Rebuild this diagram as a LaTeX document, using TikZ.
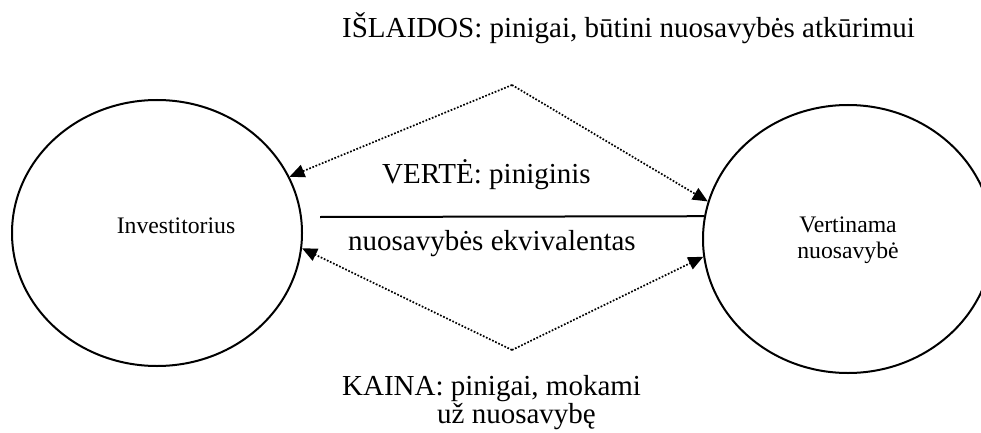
\documentclass[tikz,border=0pt]{standalone}
\usepackage{fontspec}
\setmainfont{Liberation Serif}
\usetikzlibrary{shapes.geometric,arrows.meta}
\tikzset{
  circ/.style={draw, ellipse, line width=2pt, minimum width=290pt, minimum height=266pt, inner sep=0pt},
  lbl/.style={inner sep=0pt, anchor=base west, font=\fontsize{29}{34}\selectfont},
  inlbl/.style={inner sep=0pt, anchor=base, font=\fontsize{23.7}{26}\selectfont},
  dotline/.style={line width=1.7pt, dash pattern=on 1.7pt off 1.7pt, -{Triangle[length=15pt,width=13pt]}, shorten >=0pt},
}
\begin{document}
\begin{tikzpicture}[x=1pt,y=-1pt]
\clip (0,0) rectangle (981,433);
\fill[white] (0,0) rectangle (981,433);
% ellipses
\node[circ] (inv) at (157,233) {};
\node[circ, minimum height=268pt] (prop) at (848,239) {};
% ellipse labels
\node[inlbl] (invt) at (176,233) {Investitorius};
\node[inlbl] (propt1) at (848,232) {Vertinama};
\node[inlbl] (propt2) at (848,258) {nuosavybė};
% apex coordinates
\coordinate (top) at (512,85);
\coordinate (bot) at (512,350);
\coordinate (lineL) at (320,217);
% connectors
\draw[dotline] (top) -- (inv.23.6);
\draw[dotline] (top) -- (prop.165);
\draw[dotline] (bot) -- (inv.-6);
\draw[dotline] (bot) -- (prop.187);
\draw[line width=2pt] (lineL) -- (prop.171.4);
% texts
\node[lbl] (cost) at (342,38) {IŠLAIDOS: pinigai, būtini nuosavybės atkūrimui};
\node[lbl] (val1) at (382,183) {VERTĖ: piniginis};
\node[lbl] (val2) at (348,250) {nuosavybės ekvivalentas};
\node[lbl] (price1) at (342,395) {KAINA: pinigai, mokami};
\node[lbl] (price2) at (437,423) {už nuosavybę};
\end{tikzpicture}
\end{document}
